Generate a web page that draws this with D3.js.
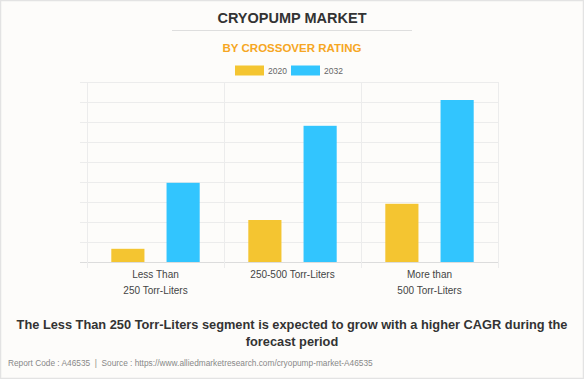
<!DOCTYPE html>
<html><head><meta charset="utf-8">
<script src="https://cdn.jsdelivr.net/npm/d3@7"></script>
<style>
html,body{margin:0;padding:0;background:#fdfcfa;}
svg{display:block;font-family:Arial,"Liberation Sans",sans-serif;}
</style></head>
<body>
<svg id="c" width="584" height="379"></svg>
<script>
const categories = [["Less Than","250 Torr-Liters"],["250-500 Torr-Liters"],["More than","500 Torr-Liters"]];
const seriesNames = ["2020","2032"];
const values2020 = [66, 210, 291];
const values2032 = [396, 681, 810];
const colors = ["#f4c531","#32c5fe"];
const yTicks = [0,100,200,300,400,500,600,700,800,900];

(function(){
const svg = d3.select("#c");
const W = 584, H = 379;
svg.append("rect").attr("x",0.5).attr("y",0.5).attr("width",W-1).attr("height",H-1)
  .attr("fill","#fdfcfa").attr("stroke","#e3e3e3").attr("stroke-width",1.5);

svg.append("text").attr("x",292).attr("y",23).attr("text-anchor","middle")
  .attr("font-size",14.5).attr("font-weight","bold").attr("fill","#333").text("CRYOPUMP MARKET");
svg.append("line").attr("x1",172).attr("x2",412).attr("y1",30.5).attr("y2",30.5).attr("stroke","#dedede");
svg.append("text").attr("x",292).attr("y",52).attr("text-anchor","middle")
  .attr("font-size",11.5).attr("font-weight","bold").attr("fill","#f6a623").text("BY CROSSOVER RATING");

const legX = [235, 291];
seriesNames.forEach((s,i)=>{
  svg.append("rect").attr("x",legX[i]).attr("y",65.5).attr("width",29).attr("height",10).attr("fill",colors[i]);
  svg.append("text").attr("x",legX[i]+33).attr("y",74).attr("font-size",8.5).attr("fill","#666").text(s);
});

const pLeft = 87, pRight = 498, pTop = 82, pBottom = 262;
const x0 = d3.scaleBand().domain(d3.range(categories.length)).range([pLeft,pRight]).padding(0);
const x1 = d3.scaleBand().domain(seriesNames).range([0,x0.bandwidth()]).paddingInner(0.4).paddingOuter(0.44);
const y = d3.scaleLinear().domain([0,900]).range([pBottom,pTop]);

const g = svg.append("g");
g.selectAll("line.h").data(yTicks).join("line")
  .attr("x1",80).attr("x2",pRight).attr("y1",d=>Math.round(y(d))+0.5).attr("y2",d=>Math.round(y(d))+0.5)
  .attr("stroke",d=>d===0?"#dcdcdc":"#ececec").attr("stroke-width",1);
const seps = d3.range(categories.length+1).map(i=> i<categories.length ? x0(i) : pRight);
g.selectAll("line.v").data(seps).join("line")
  .attr("x1",d=>Math.round(d)+0.5).attr("x2",d=>Math.round(d)+0.5).attr("y1",pTop).attr("y2",pBottom+6)
  .attr("stroke","#ececec");

const data = categories.map((c,i)=>({i, vals:[values2020[i], values2032[i]]}));
const cg = g.selectAll("g.cat").data(data).join("g").attr("transform",d=>`translate(${x0(d.i)},0)`);
cg.selectAll("rect").data(d=>d.vals.map((v,k)=>({v,k}))).join("rect")
  .attr("x",d=>x1(seriesNames[d.k])).attr("width",x1.bandwidth())
  .attr("y",d=>y(d.v)).attr("height",d=>pBottom-y(d.v))
  .attr("fill",d=>colors[d.k]);

data.forEach(d=>{
  const cx = x0(d.i)+x0.bandwidth()/2;
  categories[d.i].forEach((line,j)=>{
    svg.append("text").attr("x",cx).attr("y",278+j*15.5).attr("text-anchor","middle")
      .attr("font-size",10).attr("fill","#444").text(line);
  });
});

svg.append("text").attr("x",292).attr("y",329).attr("text-anchor","middle")
  .attr("font-size",12.8).attr("font-weight","bold").attr("fill","#333")
  .text("The Less Than 250 Torr-Liters segment is expected to grow with a higher CAGR during the");
svg.append("text").attr("x",292).attr("y",346).attr("text-anchor","middle")
  .attr("font-size",12.8).attr("font-weight","bold").attr("fill","#333").text("forecast period");
svg.append("text").attr("x",8).attr("y",366).attr("font-size",8.3).attr("fill","#888")
  .style("white-space","pre")
  .text("Report Code : A46535  |  Source : https://www.alliedmarketresearch.com/cryopump-market-A46535");
})();
</script>
</body></html>
